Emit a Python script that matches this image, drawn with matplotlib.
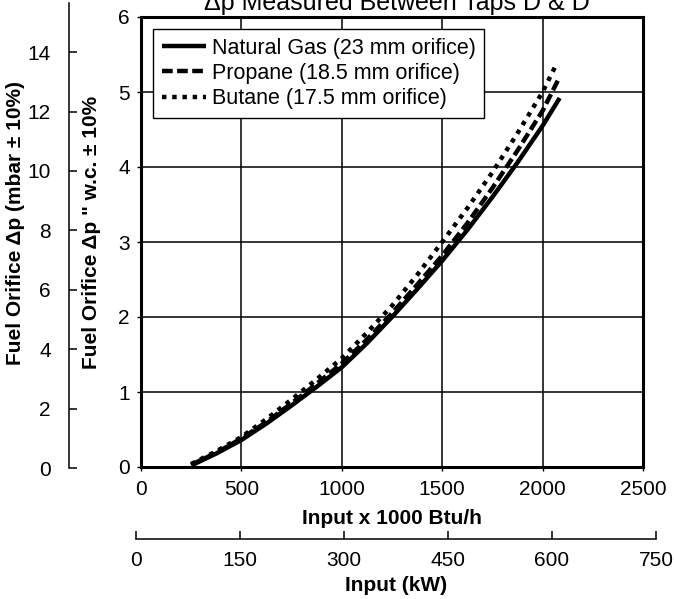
import matplotlib
matplotlib.use("Agg")
import matplotlib.pyplot as plt

plt.rcParams['font.family'] = ['Liberation Sans', 'DejaVu Sans']

# --- DATA ---
input_kbtu = [250, 375, 500, 625, 750, 875, 1000, 1125, 1250, 1375, 1500,
              1625, 1750, 1875, 2000]
dp_natural_gas = [0.02, 0.18, 0.36, 0.58, 0.82, 1.07, 1.33, 1.65, 2.00, 2.37,
                  2.75, 3.16, 3.60, 4.06, 4.55]
dp_propane = [0.03, 0.19, 0.38, 0.60, 0.85, 1.11, 1.38, 1.70, 2.05, 2.43,
              2.82, 3.25, 3.72, 4.22, 4.75]
dp_butane = [0.04, 0.21, 0.40, 0.64, 0.90, 1.17, 1.45, 1.79, 2.15, 2.56,
             3.00, 3.45, 3.93, 4.45, 5.00]
# last points of each curve (curves stop a little past 2000)
end_input = [2085, 2085, 2065]
end_dp = [4.92, 5.20, 5.35]

series_labels = ["Natural Gas (23 mm orifice)",
                 "Propane (18.5 mm orifice)",
                 "Butane (17.5 mm orifice)"]

wc_ticks = [0, 1, 2, 3, 4, 5, 6]
mbar_ticks = [0, 2, 4, 6, 8, 10, 12, 14]
btu_ticks = [0, 500, 1000, 1500, 2000, 2500]
kw_ticks = [0, 150, 300, 450, 600, 750]

W, H = 674, 599
FS = 15


def px_box(x0, y_top, x1, y_bot):
    # pixel box (from top-left) -> figure fraction rect
    return [x0 / W, 1 - y_bot / H, (x1 - x0) / W, (y_bot - y_top) / H]


fig = plt.figure(figsize=(W / 100, H / 100), dpi=100)

# --- main axes (inches w.c.) ---
ax = fig.add_axes(px_box(141, 17, 643, 467))
ax.plot(input_kbtu + [end_input[0]], dp_natural_gas + [end_dp[0]], color='black',
        lw=3.2, solid_capstyle='butt', label=series_labels[0])
ax.plot(input_kbtu + [end_input[1]], dp_propane + [end_dp[1]], color='black',
        lw=3.2, dashes=(2.4, 1.0), label=series_labels[1])
ax.plot(input_kbtu + [end_input[2]], dp_butane + [end_dp[2]], color='black',
        lw=3.2, dashes=(1.0, 1.3), label=series_labels[2])

ax.set_xlim(0, 2500)
ax.set_ylim(0, 6)
ax.set_xticks(btu_ticks)
ax.set_yticks(wc_ticks)
ax.grid(True, color='black', lw=1.1)
for s in ax.spines.values():
    s.set_linewidth(2.2)
ax.tick_params(axis='both', labelsize=FS, color='black', width=1, length=3)
ax.tick_params(axis='x', pad=6.5)
ax.tick_params(axis='y', pad=5)
ax.set_xlabel("Input x 1000 Btu/h", fontsize=FS, fontweight='bold', labelpad=7)

leg = ax.legend(loc='upper left', bbox_to_anchor=(153 / W, 1 - 29 / H),
                bbox_transform=fig.transFigure, borderaxespad=0,
                fontsize=15.5, frameon=True, fancybox=False, framealpha=1,
                handlelength=2.05, handletextpad=0.28, labelspacing=0.2,
                borderpad=0.4)
leg.get_frame().set_edgecolor('black')
leg.get_frame().set_linewidth(1.0)

# --- outer mbar axis ---
mbar_top = (468 - 3) / 29.7
ax_mb = fig.add_axes(px_box(69, 3, 70, 468))
ax_mb.set_ylim(0, mbar_top)
ax_mb.set_yticks(mbar_ticks)
ax_mb.set_xticks([])
for side in ['top', 'right', 'bottom']:
    ax_mb.spines[side].set_visible(False)
ax_mb.spines['left'].set_linewidth(1.1)
ax_mb.patch.set_visible(False)
ax_mb.tick_params(axis='y', direction='in', length=6, width=1.1, labelsize=FS, pad=13)

# --- bottom kW axis ---
ax_kw = fig.add_axes(px_box(136, 532, 656, 539))
ax_kw.set_xlim(0, 750)
ax_kw.set_xticks(kw_ticks)
ax_kw.set_yticks([])
for side in ['top', 'right', 'left']:
    ax_kw.spines[side].set_visible(False)
ax_kw.spines['bottom'].set_linewidth(1.1)
ax_kw.patch.set_visible(False)
ax_kw.tick_params(axis='x', direction='in', length=6, width=1.1, labelsize=FS, pad=9)
ax_kw.set_xlabel("Input (kW)", fontsize=FS, fontweight='bold', labelpad=4)

# --- y labels and clipped title ---
fig.text(16 / W, 1 - 223 / H, "Fuel Orifice \u0394p (mbar \u00b1 10%)", rotation=90,
         ha='center', va='center', fontsize=FS, fontweight='bold')
fig.text(92 / W, 1 - 232 / H, "Fuel Orifice \u0394p \" w.c. \u00b1 10%", rotation=90,
         ha='center', va='center', fontsize=FS, fontweight='bold')
fig.text(397 / W, 1 - 10 / H, "\u0394p Measured Between Taps D & D",
         ha='center', va='baseline', fontsize=18)

fig.savefig("out.png", dpi=100)
